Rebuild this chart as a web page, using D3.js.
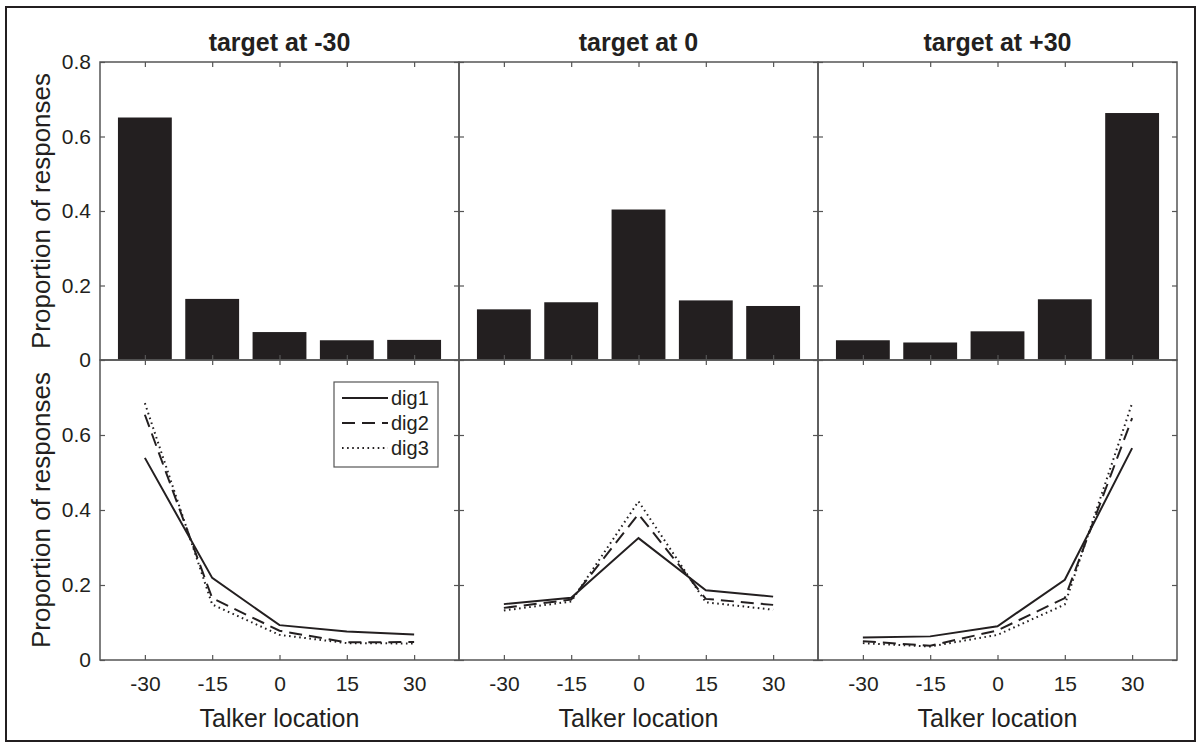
<!DOCTYPE html>
<html>
<head>
<meta charset="utf-8">
<script src="https://cdn.jsdelivr.net/npm/d3@7"></script>
<style>
  body { margin: 0; background: #fff; }
  svg { display: block; font-family: "Liberation Sans", Arial, Helvetica, sans-serif; }
  .tick line { stroke: #555; stroke-width: 1.2; }
  .tick text { fill: #231f20; font-size: 21px; font-family: "Liberation Sans", Arial, Helvetica, sans-serif; }
</style>
</head>
<body>
<svg id="chart" width="1198" height="748"></svg>
<script>
// talker locations (x categories)
const locations = [-30, -15, 0, 15, 30];
const panelTitles = ['target at -30', 'target at 0', 'target at +30'];
const seriesNames = ['dig1', 'dig2', 'dig3'];

// top row: overall proportion of responses per talker location
const barsTargetM30 = [0.651, 0.164, 0.075, 0.053, 0.054];
const barsTarget0 = [0.136, 0.155, 0.404, 0.160, 0.145];
const barsTargetP30 = [0.053, 0.047, 0.077, 0.163, 0.663];

// bottom row: per digit position
const dig1TargetM30 = [0.539, 0.219, 0.093, 0.076, 0.068];
const dig2TargetM30 = [0.654, 0.165, 0.078, 0.047, 0.048];
const dig3TargetM30 = [0.685, 0.148, 0.067, 0.045, 0.044];

const dig1Target0 = [0.149, 0.166, 0.325, 0.186, 0.169];
const dig2Target0 = [0.139, 0.161, 0.389, 0.163, 0.147];
const dig3Target0 = [0.132, 0.156, 0.423, 0.154, 0.134];

const dig1TargetP30 = [0.060, 0.063, 0.090, 0.214, 0.565];
const dig2TargetP30 = [0.050, 0.038, 0.079, 0.165, 0.645];
const dig3TargetP30 = [0.045, 0.036, 0.067, 0.148, 0.685];

const topTicks = [0, 0.2, 0.4, 0.6, 0.8];
const bottomTicks = [0, 0.2, 0.4, 0.6];

const bars = [barsTargetM30, barsTarget0, barsTargetP30];
const lines = [
  [dig1TargetM30, dig2TargetM30, dig3TargetM30],
  [dig1Target0, dig2Target0, dig3Target0],
  [dig1TargetP30, dig2TargetP30, dig3TargetP30]
];

const ink = '#231f20';
const axisColor = '#555';
const dashes = [null, '13,7', '1.6,3.5'];

const left = 100, panelW = 359;
const topY = 62, midY = 360, botY = 660;
const tickLen = 5;

const svg = d3.select('#chart');

// outer frame
svg.append('rect')
  .attr('x', 6).attr('y', 7)
  .attr('width', 1189).attr('height', 734)
  .attr('fill', 'none').attr('stroke', ink).attr('stroke-width', 2);

const x = d3.scaleLinear().domain([-40, 40]).range([0, panelW]);
const yTop = d3.scaleLinear().domain([0, 0.8]).range([midY - topY, 0]);
const yBot = d3.scaleLinear().domain([0, 0.8]).range([botY - midY, 0]);
const barW = x(12) - x(0);

const lineFn = (y) => d3.line()
  .x((d, i) => x(locations[i]))
  .y(d => y(d));

// plain hyphen-minus like the original figure
const fmtX = d => String(d);
const fmtY = d => (d === 0 ? '0' : d.toFixed(1));

function drawBox(g, y, h, tickVals, showY, showX) {
  // inward ticks on all four sides
  g.append('g').attr('transform', `translate(0,${h})`)
    .call(d3.axisBottom(x).tickValues(locations).tickSize(-tickLen).tickPadding(16)
      .tickFormat(showX ? fmtX : ''));
  g.append('g')
    .call(d3.axisTop(x).tickValues(locations).tickSize(-tickLen).tickFormat(''));
  g.append('g')
    .call(d3.axisLeft(y).tickValues(tickVals).tickSize(-tickLen).tickPadding(9)
      .tickFormat(showY ? fmtY : ''));
  g.append('g').attr('transform', `translate(${panelW},0)`)
    .call(d3.axisRight(y).tickValues(tickVals).tickSize(-tickLen).tickFormat(''));
  g.selectAll('.domain').remove();
  g.append('rect')
    .attr('width', panelW).attr('height', h)
    .attr('fill', 'none').attr('stroke', axisColor).attr('stroke-width', 1.5);
}

panelTitles.forEach((title, p) => {
  const px = left + p * panelW;

  // top row: bars
  const gt = svg.append('g').attr('transform', `translate(${px},${topY})`);
  gt.selectAll('rect.bar')
    .data(bars[p])
    .join('rect')
    .attr('class', 'bar')
    .attr('x', (d, i) => x(locations[i]) - barW / 2)
    .attr('width', barW)
    .attr('y', d => yTop(d))
    .attr('height', d => yTop(0) - yTop(d))
    .attr('fill', ink);
  drawBox(gt, yTop, midY - topY, topTicks, p === 0, false);

  gt.append('text')
    .attr('x', panelW / 2).attr('y', -11)
    .attr('text-anchor', 'middle')
    .attr('font-size', 25).attr('font-weight', 'bold')
    .attr('fill', ink)
    .text(title);

  // bottom row: lines per digit
  const gb = svg.append('g').attr('transform', `translate(${px},${midY})`);
  lines[p].forEach((vals, s) => {
    gb.append('path')
      .attr('d', lineFn(yBot)(vals))
      .attr('fill', 'none')
      .attr('stroke', ink)
      .attr('stroke-width', 2)
      .attr('stroke-dasharray', dashes[s]);
  });
  drawBox(gb, yBot, botY - midY, bottomTicks, p === 0, true);

  gb.append('text')
    .attr('x', panelW / 2).attr('y', botY - midY + 67)
    .attr('text-anchor', 'middle')
    .attr('font-size', 25)
    .attr('fill', ink)
    .text('Talker location');
});

// y axis titles
[[topY, midY], [midY, botY]].forEach(([a, b]) => {
  svg.append('text')
    .attr('transform', `translate(50,${(a + b) / 2}) rotate(-90)`)
    .attr('text-anchor', 'middle')
    .attr('font-size', 26)
    .attr('fill', ink)
    .text('Proportion of responses');
});

// legend in the first bottom panel
const lg = svg.append('g').attr('transform', 'translate(334,382)');
lg.append('rect')
  .attr('width', 104).attr('height', 85)
  .attr('fill', '#fff').attr('stroke', axisColor).attr('stroke-width', 1.2);
seriesNames.forEach((name, s) => {
  const yy = 16 + s * 25;
  lg.append('line')
    .attr('x1', 8).attr('x2', 54).attr('y1', yy).attr('y2', yy)
    .attr('stroke', ink).attr('stroke-width', 2)
    .attr('stroke-dasharray', dashes[s]);
  lg.append('text')
    .attr('x', 57).attr('y', yy).attr('dy', '0.35em')
    .attr('font-size', 20)
    .attr('fill', ink)
    .text(name);
});
</script>
</body>
</html>
